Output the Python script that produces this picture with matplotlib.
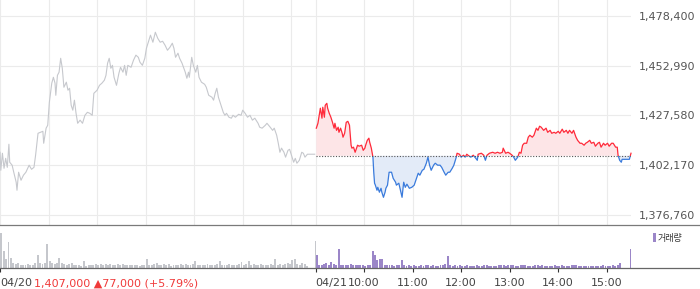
import numpy as np
import matplotlib.pyplot as plt
from matplotlib.patches import Rectangle
from matplotlib.lines import Line2D

plt.rcParams['font.family'] = ['DejaVu Sans', 'Noto Sans CJK KR']

# 04/20 price, minutes after 09:00
day1_min = [0, 1, 3, 5, 7, 9, 11, 12, 15, 17, 20, 21, 23, 26, 29, 32, 36, 39, 42, 44,
            47, 50, 53, 54, 57, 59, 61, 64, 66, 68, 69, 71, 73, 75, 77, 79, 82, 84, 86, 88,
            90, 92, 94, 96, 99, 102, 105, 108, 111, 114, 116, 120, 123, 126, 129, 131, 133, 135, 137, 139,
            141, 144, 147, 149, 152, 154, 156, 158, 162, 165, 168, 171, 173, 176, 179, 181, 184, 186, 189, 192,
            195, 198, 201, 204, 207, 210, 213, 215, 217, 220, 222, 225, 229, 231, 233, 234, 237, 239, 242, 244,
            246, 249, 253, 255, 258, 262, 264, 266, 268, 270, 272, 274, 276, 278, 280, 283, 286, 288, 291, 295,
            298, 300, 303, 306, 309, 312, 315, 319, 321, 324, 328, 330, 334, 337, 339, 342, 344, 346, 348, 351,
            353, 356, 358, 361, 363, 365, 367, 370, 373, 375, 377, 380, 385, 389]
day1_price = [1408800, 1399600, 1408300, 1400600, 1405700, 1401100, 1412900, 1403700, 1402200, 1398600,
              1393500, 1389400, 1398600, 1394500, 1397100, 1398600, 1402200, 1400100, 1401100, 1407300,
              1418500, 1419000, 1419500, 1413400, 1421100, 1422600, 1434300, 1444100, 1447100, 1444100,
              1437900, 1448100, 1449700, 1456800, 1451700, 1442000, 1444600, 1440500, 1441500, 1432800,
              1430300, 1435400, 1428700, 1423600, 1425200, 1423600, 1427700, 1429200, 1428700, 1427700,
              1438900, 1440500, 1443000, 1444100, 1445600, 1448100, 1454300, 1456800, 1451700, 1453200,
              1447100, 1443000, 1449200, 1452200, 1449700, 1453200, 1448100, 1453200, 1452200, 1455800,
              1458400, 1457300, 1454800, 1453200, 1456800, 1461900, 1466000, 1468600, 1465000, 1470100,
              1467000, 1465000, 1465500, 1463500, 1460900, 1462400, 1464500, 1461900, 1457300, 1459400,
              1456800, 1454300, 1449700, 1446600, 1449700, 1447100, 1457300, 1453200, 1449700, 1453200,
              1447100, 1444600, 1443500, 1442000, 1437900, 1436900, 1435400, 1438900, 1441500, 1436900,
              1434300, 1431800, 1429200, 1427700, 1428700, 1426700, 1426200, 1427700, 1426700, 1428200,
              1427700, 1430300, 1428700, 1426700, 1427700, 1425200, 1426200, 1423600, 1421600, 1421100,
              1422600, 1423600, 1421600, 1420000, 1421100, 1417500, 1413400, 1408800, 1410900, 1408800,
              1406300, 1409800, 1410300, 1406300, 1403700, 1405700, 1403200, 1404700, 1408800, 1408300,
              1406300, 1407800, 1407800, 1407800]

# 04/21 price, minutes after 09:00
day2_min = [1, 3, 5, 6, 8, 9, 11, 12, 14, 15, 17, 19, 21, 23, 24, 26, 28, 29, 31, 33,
            34, 36, 38, 40, 42, 44, 45, 47, 49, 52, 54, 57, 59, 61, 62, 64, 66, 67, 69, 71,
            72, 73, 74, 76, 77, 79, 81, 82, 84, 86, 87, 89, 91, 94, 96, 99, 100, 103, 105, 107,
            109, 111, 113, 116, 119, 122, 124, 127, 129, 132, 134, 137, 139, 141, 143, 146, 148, 151, 154, 156,
            159, 161, 164, 166, 169, 171, 174, 175, 178, 180, 183, 185, 187, 190, 192, 195, 197, 200, 201, 205,
            208, 210, 212, 215, 219, 222, 225, 228, 231, 232, 235, 238, 240, 243, 245, 247, 250, 252, 254, 256,
            258, 261, 263, 265, 268, 270, 273, 275, 277, 279, 282, 285, 287, 290, 292, 295, 297, 300, 302, 305,
            307, 310, 312, 314, 317, 319, 322, 324, 327, 329, 332, 334, 336, 339, 341, 344, 346, 349, 351, 353,
            356, 358, 361, 363, 366, 368, 371, 373, 374, 376, 378, 379, 382, 386, 388, 390]
day2_price = [1421100, 1423600, 1428700, 1431300, 1426200, 1431800, 1426700, 1432800, 1433800, 1431300,
              1428700, 1426700, 1424100, 1421100, 1423600, 1420000, 1421600, 1419000, 1421100, 1418500,
              1416500, 1418500, 1424100, 1424600, 1422600, 1412400, 1410900, 1411400, 1408800, 1412400,
              1411900, 1412400, 1409800, 1410900, 1412400, 1414900, 1416000, 1413900, 1410900, 1406300,
              1398600, 1393000, 1392000, 1389400, 1390900, 1388400, 1390400, 1388400, 1385800, 1388400,
              1390400, 1392000, 1398600, 1398600, 1395500, 1393500, 1392000, 1393000, 1389400, 1385800,
              1393500, 1390900, 1392500, 1390400, 1390900, 1392000, 1394500, 1398100, 1397100, 1399600,
              1400100, 1403200, 1406300, 1402200, 1399600, 1402200, 1403200, 1402200, 1402200, 1401100,
              1398600, 1397100, 1398600, 1398600, 1400600, 1402200, 1406300, 1408300, 1407800, 1406300,
              1407300, 1406300, 1407800, 1406800, 1406300, 1407300, 1406300, 1404700, 1407800, 1408300,
              1407300, 1404700, 1407300, 1408300, 1408800, 1408300, 1408800, 1408300, 1408800, 1410900,
              1408300, 1408800, 1408300, 1407300, 1406300, 1404700, 1406300, 1408800, 1408300, 1412400,
              1413400, 1413400, 1416500, 1417500, 1416500, 1417500, 1421100, 1420000, 1422100, 1421600,
              1420000, 1421100, 1419000, 1420000, 1418500, 1419000, 1418500, 1419500, 1418500, 1420600,
              1419000, 1420000, 1418500, 1420000, 1418500, 1420000, 1416500, 1414900, 1413400, 1413400,
              1412400, 1413400, 1413900, 1414900, 1413400, 1413900, 1411900, 1413400, 1413900, 1411400,
              1413400, 1412400, 1413400, 1411900, 1413400, 1413400, 1411400, 1411400, 1407300, 1404700,
              1403700, 1405200, 1405200, 1405200, 1405200, 1408300]

base_price = 1407000
y_ticks = [1376760, 1402170, 1427580, 1452990, 1478400]

# volume, 3-minute buckets (thousands)
vol1 = [35, 17, 9, 26, 10, 5, 4, 5, 3, 3, 3, 4, 3, 3, 5, 13, 5, 4, 5, 24,
        7, 5, 4, 5, 10, 5, 4, 3, 4, 5, 3, 3, 3, 2, 7, 2, 3, 3, 3, 4,
        3, 4, 3, 4, 3, 4, 3, 3, 4, 3, 4, 3, 3, 3, 3, 3, 3, 2, 3, 3,
        9, 3, 3, 4, 5, 3, 3, 4, 3, 4, 2, 3, 3, 3, 4, 3, 4, 3, 3, 4,
        7, 3, 3, 3, 3, 4, 3, 3, 3, 4, 7, 3, 3, 3, 4, 3, 3, 3, 4, 6,
        3, 4, 7, 3, 4, 3, 3, 4, 3, 3, 3, 4, 3, 9, 3, 4, 3, 4, 5, 4,
        8, 9, 4, 3, 5, 4, 2]
vol1_close = 27
vol2 = [13, 3, 3, 4, 5, 3, 6, 4, 3, 19, 3, 3, 3, 3, 4, 3, 3, 3, 3, 3,
        2, 3, 3, 17, 13, 8, 9, 9, 3, 3, 3, 3, 2, 3, 3, 8, 3, 2, 3, 2,
        3, 2, 2, 3, 2, 3, 3, 2, 3, 2, 2, 3, 3, 4, 12, 3, 2, 3, 2, 3,
        2, 2, 3, 2, 2, 2, 3, 2, 2, 3, 3, 2, 2, 2, 2, 3, 3, 3, 2, 3,
        3, 3, 2, 2, 3, 3, 3, 2, 2, 2, 3, 3, 2, 3, 2, 2, 2, 2, 3, 2,
        2, 3, 2, 2, 2, 3, 3, 3, 2, 2, 2, 2, 2, 2, 2, 2, 2, 2, 3, 2,
        2, 2, 3, 2, 3, 5]
vol2_close = 19

x_tick_pos = [0, 390, 450, 510, 570, 630, 690, 750]
x_tick_lab = ['04/20', '04/21', '10:00', '11:00', '12:00', '13:00', '14:00', '15:00']
hour_lines = [0, 60, 120, 180, 240, 300, 360, 390, 450, 510, 570, 630, 690, 750]

W, H = 700, 289
fig = plt.figure(figsize=(7, 2.89), dpi=100)

def fx(px):
    return px / W

def fy(py):
    return 1 - py / H

ax = fig.add_axes([0, fy(225), fx(631), 225 / H])
axv = fig.add_axes([0, fy(268), fx(631), 43 / H])

# price panel
ax.set_xlim(0, 780)
ax.set_ylim(1371650, 1486570)
ylo, yhi = ax.get_ylim()
ax.set_xticks(hour_lines)
ax.set_yticks(y_ticks)
ax.set_yticklabels(['{:,}'.format(v) for v in y_ticks])
ax.yaxis.tick_right()
ax.tick_params(axis='x', length=0, labelbottom=False)
ax.tick_params(axis='y', length=0, pad=46, labelsize=8, labelcolor='#555555')
for t in ax.get_yticklabels():
    t.set_ha('right')
ax.grid(True, color='#ebebeb', lw=0.8)
ax.set_axisbelow(True)
for s in ax.spines.values():
    s.set_visible(False)

ax.plot(day1_min, day1_price, color='#c6c8cd', lw=0.8)

x2 = 390 + np.array(day2_min)
p2 = np.array(day2_price)
ax.fill_between(x2, p2, base_price, where=p2 >= base_price, interpolate=True, color='#fde5e7', lw=0)
ax.fill_between(x2, p2, base_price, where=p2 <= base_price, interpolate=True, color='#e3ebf8', lw=0)
up, = ax.plot(x2, p2, color='#ff2a3a', lw=0.9)
dn, = ax.plot(x2, p2, color='#3a7bdc', lw=0.9)
up.set_clip_path(Rectangle((380, base_price), 420, yhi - base_price, transform=ax.transData))
dn.set_clip_path(Rectangle((380, ylo), 420, base_price - ylo, transform=ax.transData))
ax.plot([390, 780], [base_price, base_price], color='#555555', lw=0.8, ls=(0, (1, 1.5)))

# volume panel
b1 = np.arange(len(vol1)) * 3 + 1.5
b2 = 390 + np.arange(len(vol2)) * 3 + 1.5
axv.bar(b1, vol1, width=2.4, color='#c5c7cc', lw=0)
axv.bar([389.5], [vol1_close], width=1.2, color='#c5c7cc', lw=0)
axv.bar(b2, vol2, width=2.4, color='#9b86c8', lw=0)
axv.bar([779], [vol2_close], width=1.2, color='#9b86c8', lw=0)
axv.set_xlim(0, 780)
axv.set_ylim(0, 43)
axv.set_yticks([])
axv.set_xticks(x_tick_pos)
axv.set_xticklabels(x_tick_lab)
axv.tick_params(axis='x', length=3, width=0.8, color='#333333', labelsize=8,
                labelcolor='#444444', pad=4)
for t in axv.get_xticklabels()[:2]:
    t.set_ha('left')
for s in axv.spines.values():
    s.set_visible(False)

fig.add_artist(Line2D([0, 1], [fy(225.3), fy(225.3)], transform=fig.transFigure, color='#7a7a7a', lw=0.9))
fig.add_artist(Line2D([0, 1], [fy(267.8), fy(267.8)], transform=fig.transFigure, color='#666666', lw=0.9))

fig.text(fx(34), fy(283), '1,407,000 \u25b277,000 (+5.79%)', color='#f03a3a', fontsize=8,
         va='center', ha='left')

fig.add_artist(Rectangle((fx(652.5), fy(242)), fx(3.5), 9 / H, transform=fig.transFigure,
                         color='#9b86c8', lw=0))
fig.text(fx(657.5), fy(238), '거래량', fontsize=6.5, color='#333333', va='center', ha='left')

fig.savefig('out.png', dpi=100)
